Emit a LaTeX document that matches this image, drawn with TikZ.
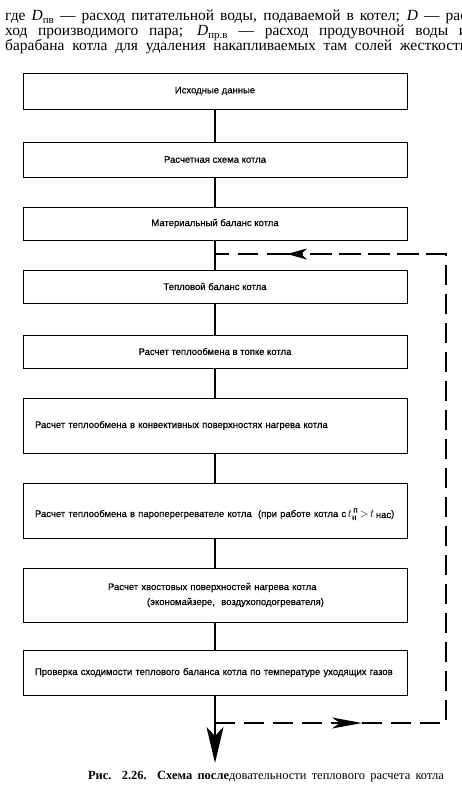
\documentclass[tikz,border=0pt]{standalone}
\usepackage{fontspec}
\usepackage{amsmath}
\setmainfont{Liberation Serif}
\setsansfont{Liberation Sans}
\newfontfamily\boxfont{Liberation Sans}[FakeBold=0.5]
\usetikzlibrary{arrows.meta}
\tikzset{
  box/.style={draw, line width=0.9pt, minimum width=384pt, inner sep=0pt,
    font=\boxfont\fontsize{9.5}{15}\selectfont},
  leftbox/.style={box, text width=360pt, align=left},
  link/.style={line width=1.3pt},
  back/.style={line width=1.5pt, dash pattern=on 20pt off 9pt},
  hdr/.style={anchor=base west, inner sep=0pt, font=\fontsize{15.5}{15}\selectfont},
}
\begin{document}
\begin{tikzpicture}[x=1pt,y=-1pt]
\useasboundingbox (0,0) rectangle (462,797);
\clip (0,0) rectangle (462,797);
% header text
\node[hdr] (h1) at (5,21) {\makebox[462pt][s]{где \textit{D}\textsubscript{пв} — расход питательной воды, подаваемой в котел; \textit{D} — рас}};
\node[hdr] (h2) at (5,36) {\makebox[462pt][s]{ход производимого пара; \textit{D}\textsubscript{пр.в} — расход продувочной воды и}};
\node[hdr] (h3) at (5,51) {\makebox[463pt][s]{барабана котла для удаления накапливаемых там солей жесткости}};
% boxes
\node[box, minimum height=36pt] (b1) at (215,91) {Исходные данные};
\node[box, minimum height=35pt] (b2) at (215,159.5) {Расчетная схема котла};
\node[box, minimum height=33pt] (b3) at (215,223.5) {Материальный баланс котла};
\node[box, minimum height=33pt] (b4) at (215,286.5) {Тепловой баланс котла};
\node[box, minimum height=33pt] (b5) at (215,351.5) {Расчет теплообмена в топке котла};
\node[leftbox, minimum height=55pt] (b6) at (215,425.5) {Расчет теплообмена в конвективных поверхностях нагрева котла};
\node[leftbox, minimum height=55pt, text height=16pt] (b7) at (215,510.5) {Расчет теплообмена в пароперегревателе котла\ \ (при работе котла с\,{\fontsize{12}{14}\selectfont$t^{\,\text{п}}_{\text{н}}\!>\!t$}\,\raisebox{-1pt}{нас})};
\node[leftbox, minimum height=54pt] (b8) at (215,595) {\hspace*{73pt}Расчет хвостовых поверхностей нагрева котла\\ \hspace*{112pt}(экономайзере,\ \ воздухоподогревателя)};
\node[leftbox, minimum height=45pt] (b9) at (215,672.5) {Проверка сходимости теплового баланса котла по температуре уходящих газов};
% solid links
\draw[link] (b1) -- (b2);
\draw[link] (b2) -- (b3);
\draw[link] (b3) -- (b4);
\draw[link] (b4) -- (b5);
\draw[link] (b5) -- (b6);
\draw[link] (b6) -- (b7);
\draw[link] (b7) -- (b8);
\draw[link] (b8) -- (b9);
\coordinate (out) at (215,763);
\draw[link, -{Stealth[length=36pt, width=17pt, inset=9pt]}] (b9) -- (out);
% dashed return loop
\coordinate (jb) at (215,723);
\coordinate (rb) at (446,723);
\coordinate (rt) at (446,254);
\coordinate (jt) at (215,254);
\coordinate (ab) at (362,723);
\coordinate (at) at (287,254);
\draw[back, -{Stealth[length=30pt, width=11pt, inset=8pt]}] (jb) -- (ab);
\draw[back] (ab) -- (rb) -- (rt) -- (at);
\draw[back, -{Stealth[length=20pt, width=11pt, inset=6pt]}] (rt) -- (at);
\draw[back] (at) -- (jt);
% caption
\node[anchor=base, inner sep=0pt, font=\fontsize{12.5}{14}\selectfont] (cap) at (266,779) {\makebox[356pt][s]{\textbf{Рис. 2.26. Схема после}довательности теплового расчета котла}};
\end{tikzpicture}
\end{document}
